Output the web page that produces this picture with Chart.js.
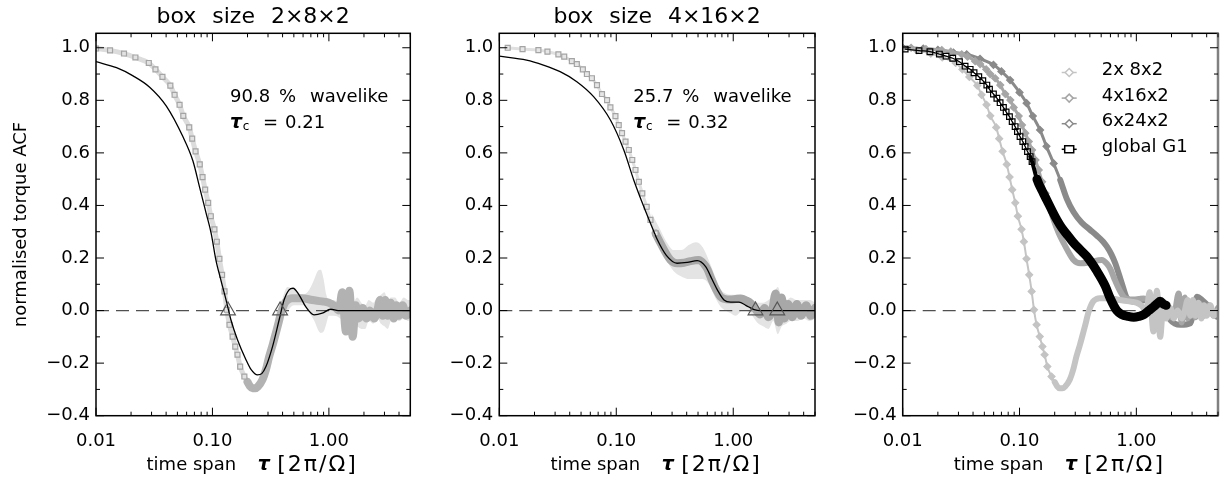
<!DOCTYPE html>
<html>
<head>
<meta charset="utf-8">
<script src="https://cdn.jsdelivr.net/npm/chart.js@4.4.1/dist/chart.umd.min.js"></script>
<style>
  html, body { margin: 0; padding: 0; background: #fff; }
  body { width: 1224px; height: 481px; position: relative; overflow: hidden; }
  canvas { position: absolute; top: 0; }
</style>
</head>
<body>
<canvas id="c1" width="420" height="481" style="left:0px"></canvas>
<canvas id="c2" width="420" height="481" style="left:410px"></canvas>
<canvas id="c3" width="404" height="481" style="left:820px"></canvas>
<script>
// axes
const xRange = [0.01, 5];
const xTickValues = [0.01, 0.1, 1];
const xMinorTicks = [0.02, 0.03, 0.04, 0.05, 0.06, 0.07, 0.08, 0.09, 0.2, 0.3, 0.4, 0.5, 0.6, 0.7, 0.8, 0.9, 2, 3, 4, 5];
const yTickValues = [-0.4, -0.2, 0, 0.2, 0.4, 0.6, 0.8, 1.0];
const yMinorTicks = [-0.3, -0.1, 0.1, 0.3, 0.5, 0.7, 0.9];
const zeroLine = [0, 0];

// box 2x8x2: measured ACF
const tau2x8 = [0.0100, 0.0132, 0.0174, 0.0218, 0.0284, 0.0324, 0.0372, 0.0435, 0.0473, 0.0522, 0.0562, 0.0632, 0.0670, 0.0716, 0.0778, 0.0822, 0.0866, 0.0919, 0.0968, 0.1040, 0.1090, 0.1148, 0.1210, 0.1270, 0.1330, 0.1400, 0.1490, 0.1570, 0.1640, 0.1730, 0.1880,
  0.2000, 0.2100, 0.2210, 0.2330, 0.2450, 0.2690, 0.2880, 0.3070, 0.3300, 0.3500, 0.3700, 0.3860, 0.4050, 0.4260, 0.4560, 0.4860, 0.5900, 0.7200, 0.8700, 1.0000,
  1.1000, 1.2200, 1.3000, 1.4000, 1.5000, 1.6000, 1.7000, 1.8000, 1.9500, 2.1000, 2.2500, 2.4500, 2.6000, 2.7500, 2.9000, 3.0500, 3.2000, 3.4000, 3.6000, 3.8000, 4.0000, 4.3000, 4.6000, 5.0000];
const acf2x8 = [0.997, 0.990, 0.978, 0.963, 0.942, 0.918, 0.889, 0.856, 0.821, 0.783, 0.741, 0.697, 0.654, 0.606, 0.556, 0.508, 0.460, 0.410, 0.359, 0.309, 0.262, 0.197, 0.136, 0.073, 0.003, -0.054, -0.099, -0.137, -0.168, -0.213, -0.251,
  -0.272, -0.288, -0.296, -0.296, -0.290, -0.263, -0.225, -0.175, -0.128, -0.086, -0.045, -0.012, 0.015, 0.034, 0.044, 0.047, 0.047, 0.040, 0.035, 0.030,
  0.020, 0.000, 0.070, -0.080, 0.075, -0.100, 0.020, -0.030, 0.010, -0.030, 0.000, -0.030, 0.000, 0.040, -0.020, 0.040, -0.020, 0.030, -0.030, 0.020, -0.020, 0.020, -0.020, 0.000];
// box 2x8x2: fit
const fitTau2x8 = [0.0100, 0.0150, 0.0208, 0.0289, 0.0402, 0.0557, 0.0679, 0.0774, 0.0883, 0.0975, 0.1070, 0.1180, 0.1310, 0.1440, 0.1640, 0.1940, 0.2150, 0.2440, 0.2650, 0.2880, 0.3280, 0.3740, 0.4120, 0.4550, 0.4920, 0.5540, 0.6320, 0.7450, 0.8770, 1.0350, 1.2000, 5.0000];
const fit2x8 = [0.947, 0.924, 0.893, 0.850, 0.778, 0.662, 0.570, 0.471, 0.370, 0.294, 0.193, 0.117, 0.040, -0.035, -0.111, -0.187, -0.225, -0.245, -0.240, -0.213, -0.137, -0.035, 0.040, 0.079, 0.085, 0.060, 0.015, -0.016, -0.010, 0.005, 0.000, 0.000];
// box 2x8x2: error envelope
const errTau2x8 = [0.40, 0.44, 0.50, 0.60, 0.68, 0.75, 0.80, 0.85, 0.90, 0.95, 1.00, 1.10, 1.25, 1.40, 1.60, 1.75, 1.90, 2.05, 2.20, 2.40, 2.60, 2.80, 3.00, 3.20, 3.40, 3.70, 4.00, 4.40, 4.80, 5.00];
const errHi2x8 = [0.05, 0.09, 0.08, 0.06, 0.08, 0.12, 0.15, 0.155, 0.12, 0.06, 0.04, 0.04, 0.03, 0.05, 0.03, 0.05, 0.03, 0.02, 0.04, 0.03, 0.05, 0.06, 0.07, 0.04, 0.05, 0.05, 0.03, 0.05, 0.04, 0.04];
const errLo2x8 = [-0.01, 0.00, 0.02, 0.02, -0.01, -0.04, -0.07, -0.085, -0.08, -0.05, -0.02, -0.02, -0.03, -0.06, -0.05, -0.06, -0.07, -0.07, -0.04, -0.05, -0.03, -0.05, -0.06, -0.07, -0.04, -0.03, -0.04, -0.03, -0.04, -0.03];
const zeros2x8 = [0.136, 0.381];

// box 4x16x2
const tau4x16 = [0.0118, 0.0158, 0.0216, 0.0258, 0.0320, 0.0359, 0.0417, 0.0460, 0.0518, 0.0561, 0.0619, 0.0684, 0.0755, 0.0834, 0.0891, 0.0984, 0.1050, 0.1120, 0.1200, 0.1280, 0.1370, 0.1460, 0.1560, 0.1670, 0.1820, 0.1960, 0.2170,
  0.2380, 0.2630, 0.2900, 0.3310, 0.3800, 0.4310, 0.5070, 0.5600, 0.6000, 0.6500, 0.7050, 0.7800, 0.8300, 0.9500, 1.0500, 1.1550, 1.3000, 1.4100,
  1.5500, 1.7000, 1.8500, 2.0000, 2.1500, 2.3000, 2.4500, 2.6000, 2.7500, 2.9500, 3.2000, 3.5000, 3.8000, 4.2000, 4.6000, 5.0000];
const acf4x16 = [1.000, 0.995, 0.991, 0.985, 0.975, 0.966, 0.949, 0.938, 0.918, 0.900, 0.884, 0.858, 0.824, 0.801, 0.773, 0.740, 0.706, 0.675, 0.643, 0.611, 0.573, 0.535, 0.490, 0.446, 0.395, 0.345, 0.294,
  0.258, 0.222, 0.193, 0.180, 0.182, 0.188, 0.192, 0.178, 0.158, 0.120, 0.085, 0.052, 0.045, 0.042, 0.044, 0.046, 0.038, 0.028,
  0.005, -0.015, 0.010, -0.025, 0.000, 0.065, -0.045, 0.050, -0.030, 0.025, -0.025, 0.025, -0.020, 0.020, -0.020, 0.010];
const fitTau4x16 = [0.0100, 0.0171, 0.0238, 0.0331, 0.0460, 0.0640, 0.0891, 0.1160, 0.1410, 0.1720, 0.2100, 0.2230, 0.2680, 0.3310, 0.4040, 0.4920, 0.5810, 0.6620, 0.7310, 0.8340, 0.9510, 1.1200, 1.2800, 1.5100, 1.7000, 5.0000];
const fit4x16 = [0.968, 0.953, 0.934, 0.909, 0.871, 0.814, 0.725, 0.611, 0.497, 0.395, 0.300, 0.272, 0.210, 0.180, 0.183, 0.190, 0.167, 0.117, 0.079, 0.040, 0.032, 0.032, 0.020, 0.004, 0.000, 0.000];
const errTau4x16 = [0.20, 0.23, 0.27, 0.31, 0.36, 0.42, 0.48, 0.55, 0.62, 0.70, 0.78, 0.86, 0.95, 1.05, 1.20, 1.40, 1.60, 1.80, 2.00, 2.20, 2.40, 2.60, 2.85, 3.10, 3.50, 4.00, 4.50, 5.00];
const errHi4x16 = [0.37, 0.32, 0.26, 0.23, 0.23, 0.25, 0.26, 0.24, 0.19, 0.13, 0.08, 0.065, 0.06, 0.06, 0.06, 0.045, 0.03, 0.03, 0.04, 0.06, 0.09, 0.05, 0.04, 0.05, 0.04, 0.04, 0.04, 0.03];
const errLo4x16 = [0.32, 0.25, 0.19, 0.15, 0.13, 0.12, 0.12, 0.12, 0.10, 0.05, 0.015, 0.0, -0.01, -0.02, 0.0, -0.01, -0.045, -0.06, -0.07, -0.04, -0.09, -0.06, -0.05, -0.04, -0.04, -0.03, -0.04, -0.03];
const zeros4x16 = [1.55, 2.38];

// box 6x24x2
const tau6x24 = [0.0100, 0.0150, 0.0200, 0.0272, 0.0353, 0.0459, 0.0598, 0.0700, 0.0830, 0.1000, 0.1150, 0.1300, 0.1500, 0.1700, 0.1960, 0.2230, 0.2540, 0.2900, 0.3400, 0.4000,
  0.4600, 0.5200, 0.5600, 0.6100, 0.6600, 0.7500, 0.8300, 0.9460, 1.2300, 1.4100, 1.7100, 1.9500, 2.3800, 2.9000, 3.1000, 3.3100, 3.6500, 4.1700, 4.9000, 5.0000];
const acf6x24 = [1.000, 0.997, 0.992, 0.982, 0.975, 0.958, 0.935, 0.910, 0.877, 0.830, 0.789, 0.740, 0.687, 0.625, 0.560, 0.497, 0.425, 0.375, 0.335, 0.308,
  0.285, 0.262, 0.243, 0.215, 0.180, 0.104, 0.047, 0.034, 0.040, 0.040, 0.015, -0.035, -0.054, -0.048, 0.000, 0.053, 0.040, 0.015, -0.023, -0.025];

// global G1
const tauG1 = [0.0105, 0.0138, 0.0171, 0.0206, 0.0235, 0.0268, 0.0306, 0.0342, 0.0378, 0.0408, 0.0448, 0.0485, 0.0525, 0.0553, 0.0598, 0.0640, 0.0682, 0.0728, 0.0768, 0.0820, 0.0865, 0.0917, 0.0960, 0.1010, 0.1067, 0.1117, 0.1170, 0.1233, 0.1280,
  0.1410, 0.1600, 0.1710, 0.1900, 0.2090, 0.2300, 0.2600, 0.2900, 0.3300, 0.3780, 0.4600, 0.5400, 0.6000, 0.6800, 0.7500, 0.8500, 0.9500, 1.0500, 1.1500, 1.2800, 1.4100, 1.5200, 1.6000, 1.7000, 1.8000];
const acfG1 = [0.995, 0.989, 0.985, 0.976, 0.968, 0.960, 0.947, 0.930, 0.918, 0.905, 0.890, 0.875, 0.858, 0.842, 0.824, 0.808, 0.791, 0.773, 0.756, 0.738, 0.719, 0.700, 0.681, 0.662, 0.643, 0.624, 0.605, 0.586, 0.567,
  0.500, 0.446, 0.421, 0.380, 0.345, 0.315, 0.285, 0.258, 0.232, 0.205, 0.150, 0.095, 0.045, 0.000, -0.015, -0.022, -0.025, -0.022, -0.016, 0.000, 0.015, 0.028, 0.035, 0.025, 0.020];

// texts
const boxTitles = ['box size 2\u00d78\u00d72', 'box size 4\u00d716\u00d72'];
const wavelike = ['90.8', '25.7'];
const tauC = ['0.21', '0.32'];
const legendLabels = ['2x 8x2', '4x16x2', '6x24x2', 'global G1'];
const legendColors = ['#c4c4c4', '#a6a6a6', '#8a8a8a', '#000000'];

const FONT = '"DejaVu Sans", sans-serif';
Chart.defaults.font.family = FONT;
Chart.defaults.font.size = 18;
Chart.defaults.color = '#000';

const pts = (xs, ys) => xs.map((x, i) => ({ x: x, y: ys[i] }));

function curve(xs, ys, o) {
  return {
    data: pts(xs, ys), showLine: true, order: o.order, clip: 0,
    cubicInterpolationMode: 'monotone',
    borderCapStyle: 'round', borderJoinStyle: 'round',
    borderColor: o.color(1), borderWidth: o.width(1),
    segment: {
      borderColor: c => o.color(c.p0.parsed.x),
      borderWidth: c => o.width(c.p0.parsed.x)
    },
    pointStyle: o.marker || 'circle',
    pointRadius: c => (o.marker && c.raw && c.raw.x < o.markerMax) ? o.r : 0,
    pointHoverRadius: 0,
    pointBorderColor: o.mBorder, pointBackgroundColor: o.mFill, pointBorderWidth: o.mWidth || 1.2
  };
}

function zeroDs(order) {
  return { data: pts(xRange, zeroLine), showLine: true, order: order, borderColor: '#505050', borderWidth: 1.3,
    borderDash: [13, 7], pointRadius: 0, clip: 0 };
}
function bandDs(xs, lo, hi, order) {
  return [
    { data: pts(xs, lo), showLine: true, borderWidth: 0, pointRadius: 0, order: order, cubicInterpolationMode: 'monotone', clip: 0 },
    { data: pts(xs, hi), showLine: true, borderWidth: 0, pointRadius: 0, order: order, cubicInterpolationMode: 'monotone', clip: 0,
      fill: { target: '-1', above: '#e4e4e4', below: '#e4e4e4' } }
  ];
}
function triDs(xs) {
  return { data: pts(xs, zeroLine), showLine: false, order: 0, pointStyle: 'triangle', pointRadius: 8.5,
    pointBorderColor: '#555', pointBackgroundColor: 'rgba(0,0,0,0)', pointBorderWidth: 1.2, clip: false };
}
function fitDs(xs, ys) {
  return { data: pts(xs, ys), showLine: true, order: 1, borderColor: '#000', borderWidth: 1.3,
    cubicInterpolationMode: 'monotone', pointRadius: 0, clip: 0 };
}

const fmtY = v => (v < -1e-9 ? '\u2212' : '') + Math.abs(v).toFixed(1);

const decor = {
  id: 'decor',
  afterDraw(chart, args, opts) {
    const { ctx, chartArea: a, scales: { x, y } } = chart;
    ctx.save();
    // frame + inward ticks
    ctx.strokeStyle = '#000';
    ctx.lineWidth = 1.5;
    ctx.strokeRect(a.left, a.top, a.right - a.left, a.bottom - a.top);
    if (opts.grayRight) {
      ctx.strokeStyle = '#808080';
      ctx.lineWidth = 2.5;
      ctx.beginPath(); ctx.moveTo(a.right, a.top); ctx.lineTo(a.right, a.bottom); ctx.stroke();
      ctx.strokeStyle = '#000';
    }
    ctx.lineWidth = 1;
    const seg = (x0, y0, x1, y1) => { ctx.beginPath(); ctx.moveTo(x0, y0); ctx.lineTo(x1, y1); ctx.stroke(); };
    const xt = (vals, len) => vals.forEach(v => { const p = x.getPixelForValue(v); seg(p, a.bottom, p, a.bottom - len); seg(p, a.top, p, a.top + len); });
    const yt = (vals, len) => vals.forEach(v => { const p = y.getPixelForValue(v); seg(a.left, p, a.left + len, p); seg(a.right, p, a.right - len, p); });
    xt(xTickValues, 8); xt(xMinorTicks, 4);
    yt(yTickValues, 8); yt(yMinorTicks, 4);

    const cx = (a.left + a.right) / 2;
    ctx.fillStyle = '#000';
    ctx.textBaseline = 'alphabetic';
    // x title
    ctx.textAlign = 'left';
    ctx.font = '18px ' + FONT;
    ctx.fillText('time span', cx - 106.6, 470);
    ctx.font = 'bold italic 19px ' + FONT;
    ctx.fillText('\u03c4', cx + 4.7, 470);
    ctx.font = '22px ' + FONT;
    ctx.letterSpacing = '2px';
    ctx.fillText('[2\u03c0/\u03a9]', cx + 24, 471);
    ctx.letterSpacing = '0px';

    if (opts.title) {
      ctx.textAlign = 'center';
      ctx.font = '22px ' + FONT;
      ctx.wordSpacing = '9px';
      ctx.fillText(opts.title, cx, 22.5);
      ctx.wordSpacing = '0px';
    }
    if (opts.wave) {
      const L = a.left + 134;
      ctx.textAlign = 'left';
      ctx.font = '18px ' + FONT;
      ctx.fillText(opts.wave, L, 101.7);
      ctx.fillText('%', L + 49, 101.7);
      ctx.fillText('wavelike', L + 80, 101.7);
      ctx.font = 'bold italic 19px ' + FONT;
      ctx.fillText('\u03c4', L, 127.5);
      ctx.font = '12px ' + FONT;
      ctx.fillText('c', L + 12.7, 130);
      ctx.font = '18px ' + FONT;
      ctx.fillText('=', L + 33, 127.5);
      ctx.fillText(opts.tc, L + 55, 127.5);
    }
    if (opts.legend) {
      ctx.textAlign = 'left';
      ctx.font = '18px ' + FONT;
      legendLabels.forEach((lab, i) => {
        const b = 75 + 25.6 * i;
        const my = b - 2.5;
        const x0 = a.left + 159, x1 = a.left + 174, mx = a.left + 166.5;
        ctx.strokeStyle = legendColors[i];
        ctx.lineWidth = 1.5;
        seg(x0, my, x1, my);
        ctx.fillStyle = '#fff';
        ctx.beginPath();
        if (i < 3) {
          ctx.moveTo(mx - 4, my); ctx.lineTo(mx, my - 4); ctx.lineTo(mx + 4, my); ctx.lineTo(mx, my + 4); ctx.closePath();
        } else {
          ctx.rect(mx - 4.5, my - 3.5, 9, 7);
        }
        ctx.fill(); ctx.stroke();
        ctx.fillStyle = '#000';
        ctx.fillText(lab, a.left + 199, b);
      });
    }
    ctx.restore();
  }
};

function makeChart(id, yWidth, padRight, datasets, decorOpts, yTitle) {
  return new Chart(document.getElementById(id), {
    type: 'scatter',
    data: { datasets: datasets },
    plugins: [decor],
    options: {
      responsive: false, animation: false, devicePixelRatio: 1,
      layout: { padding: { top: 33.3, right: padRight, left: 0, bottom: 0 } },
      plugins: { legend: { display: false }, tooltip: { enabled: false }, decor: decorOpts },
      scales: {
        x: {
          type: 'logarithmic', min: xRange[0], max: xRange[1], position: 'bottom',
          grid: { display: false, drawTicks: false }, border: { display: false },
          afterBuildTicks: s => { s.ticks = xTickValues.map(v => ({ value: v })); },
          afterFit: s => { s.height = 65.3; },
          ticks: { padding: 15, autoSkip: false, maxRotation: 0, callback: v => Number(v).toFixed(2) }
        },
        y: {
          type: 'linear', min: -0.4, max: 1.055, position: 'left',
          grid: { display: false, drawTicks: false }, border: { display: false },
          afterBuildTicks: s => { s.ticks = yTickValues.map(v => ({ value: v })); },
          afterFit: s => { s.width = yWidth; },
          ticks: { padding: 6, autoSkip: false, callback: v => fmtY(v) },
          title: { display: !!yTitle, text: yTitle || '', font: { size: 18, lineHeight: 1.2 }, padding: { top: 11, bottom: 0 } }
        }
      }
    }
  });
}

// panel 1
makeChart('c1', 96, 9, [
  triDs(zeros2x8),
  fitDs(fitTau2x8, fit2x8),
  curve(tau2x8, acf2x8, { order: 2, color: x => x < 0.19 ? '#dcdcdc' : '#b2b2b2', width: x => x < 0.19 ? 5 : 8,
    marker: 'rect', markerMax: 0.2, r: 3.5, mBorder: '#a4a4a4', mFill: '#e2e2e2' }),
  zeroDs(3),
  ...bandDs(errTau2x8, errLo2x8, errHi2x8, 4)
], { title: boxTitles[0], wave: wavelike[0], tc: tauC[0] }, 'normalised torque ACF');

// panel 2
makeChart('c2', 89.3, 15, [
  triDs(zeros4x16),
  fitDs(fitTau4x16, fit4x16),
  curve(tau4x16, acf4x16, { order: 2, color: x => x < 0.2 ? '#e0e0e0' : '#a8a8a8', width: x => x < 0.2 ? 3 : 8,
    marker: 'rect', markerMax: 0.22, r: 3.5, mBorder: '#a4a4a4', mFill: '#e6e6e6' }),
  zeroDs(3),
  ...bandDs(errTau4x16, errLo4x16, errHi4x16, 4)
], { title: boxTitles[1], wave: wavelike[1], tc: tauC[1] });

// panel 3
makeChart('c3', 82.7, 6, [
  curve(tauG1, acfG1, { order: 0, color: () => '#000', width: x => x < 0.12 ? 1.3 : (x < 0.14 ? 4 : 9),
    marker: 'rect', markerMax: 0.135, r: 4, mBorder: '#000', mFill: 'rgba(0,0,0,0)' }),
  curve(tau2x8, acf2x8, { order: 1, color: () => legendColors[0], width: x => x < 0.2 ? 2 : 6,
    marker: 'rectRot', markerMax: 0.2, r: 3.5, mBorder: legendColors[0], mFill: legendColors[0] }),
  curve(tau4x16, acf4x16, { order: 2, color: () => legendColors[1], width: x => x < 0.16 ? 3 : 6,
    marker: 'rectRot', markerMax: 0.17, r: 3.5, mBorder: legendColors[1], mFill: legendColors[1] }),
  curve(tau6x24, acf6x24, { order: 3, color: () => legendColors[2], width: x => x < 0.2 ? 3 : 6,
    marker: 'rectRot', markerMax: 0.21, r: 3.5, mBorder: legendColors[2], mFill: legendColors[2] }),
  zeroDs(4)
], { legend: true, grayRight: true });
</script>
</body>
</html>
